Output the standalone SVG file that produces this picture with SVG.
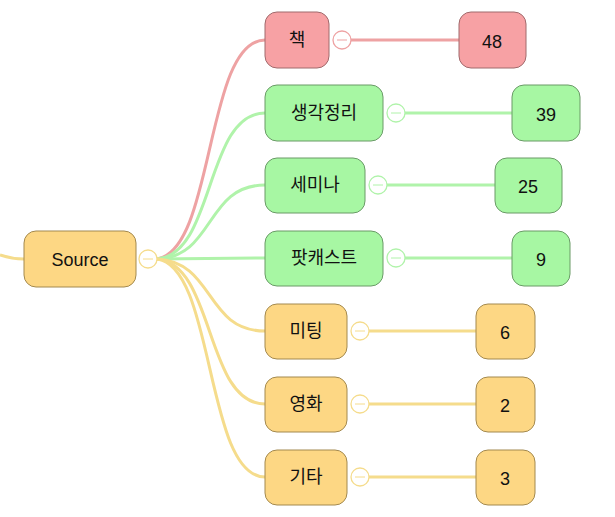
<svg xmlns="http://www.w3.org/2000/svg" width="615" height="517" viewBox="0 0 615 517">
<style>
text{font-family:"Liberation Sans","Noto Sans CJK KR",sans-serif;font-size:18px;text-anchor:middle;dominant-baseline:central;fill:#111}
.n rect{stroke-width:1}
.r rect{fill:#f7a1a4;stroke:#a06a6c}
.g rect{fill:#a7f7a3;stroke:#6a9a67}
.y rect{fill:#fdd784;stroke:#a3894f}
.c{fill:#fff;stroke-width:1.3}
.l{fill:none;stroke-width:3}
</style>
<g id="connectors">
<path class="l" d="M0 255 Q12 259 24 259" stroke="#f5dc8c"/>
<path class="l" d="M157 259 C215 250 205 40 265 40" stroke="#eea2a3"/>
<path class="l" d="M157 259 C215 255 205 113 265 113" stroke="#b0f3aa"/>
<path class="l" d="M157 259 C215 257 205 185 265 185" stroke="#b0f3aa"/>
<path class="l" d="M157 259 L265 258" stroke="#b0f3aa"/>
<path class="l" d="M157 259 C215 262 205 331 265 331" stroke="#f5dc8c"/>
<path class="l" d="M157 259 C215 264 205 404 265 404" stroke="#f5dc8c"/>
<path class="l" d="M157 259 C215 266 205 477 265 477" stroke="#f5dc8c"/>
<path class="l" d="M351 40 H459" stroke="#eea2a3"/>
<path class="l" d="M405 113 H512" stroke="#b0f3aa"/>
<path class="l" d="M387 185 H495" stroke="#b0f3aa"/>
<path class="l" d="M405 258 H512" stroke="#b0f3aa"/>
<path class="l" d="M369 331 H476" stroke="#f5dc8c"/>
<path class="l" d="M369 404 H476" stroke="#f5dc8c"/>
<path class="l" d="M369 477 H476" stroke="#f5dc8c"/>
</g>
<g id="source" class="n y"><rect x="24" y="231" width="112" height="56" rx="12"/><text x="80" y="260">Source</text><circle class="c" cx="148" cy="259" r="9" stroke="#f5dc8c"/><path d="M143 259h10" stroke="#f5dc8c"/></g>
<g id="n1" class="n r"><rect x="265" y="12" width="64" height="56" rx="12"/><text x="297" y="40">책</text><circle class="c" cx="342" cy="40" r="9" stroke="#eea2a3"/><path d="M337 40h10" stroke="#eea2a3"/></g>
<g id="v1" class="n r"><rect x="459" y="12" width="67" height="56" rx="12"/><text x="492" y="42">48</text></g>
<g id="n2" class="n g"><rect x="265" y="85" width="118" height="56" rx="12"/><text x="324" y="113">생각정리</text><circle class="c" cx="396" cy="113" r="9" stroke="#b0f3aa"/><path d="M391 113h10" stroke="#b0f3aa"/></g>
<g id="v2" class="n g"><rect x="512" y="85" width="68" height="56" rx="12"/><text x="546" y="115">39</text></g>
<g id="n3" class="n g"><rect x="265" y="158" width="100" height="55" rx="12"/><text x="315" y="185">세미나</text><circle class="c" cx="378" cy="185" r="9" stroke="#b0f3aa"/><path d="M373 185h10" stroke="#b0f3aa"/></g>
<g id="v3" class="n g"><rect x="495" y="158" width="67" height="55" rx="12"/><text x="528" y="187">25</text></g>
<g id="n4" class="n g"><rect x="265" y="231" width="118" height="55" rx="12"/><text x="324" y="258">팟캐스트</text><circle class="c" cx="396" cy="258" r="9" stroke="#b0f3aa"/><path d="M391 258h10" stroke="#b0f3aa"/></g>
<g id="v4" class="n g"><rect x="512" y="231" width="58" height="55" rx="12"/><text x="541" y="260">9</text></g>
<g id="n5" class="n y"><rect x="265" y="304" width="82" height="55" rx="12"/><text x="306" y="331">미팅</text><circle class="c" cx="360" cy="331" r="9" stroke="#f5dc8c"/><path d="M355 331h10" stroke="#f5dc8c"/></g>
<g id="v5" class="n y"><rect x="476" y="304" width="59" height="55" rx="12"/><text x="505" y="333">6</text></g>
<g id="n6" class="n y"><rect x="265" y="377" width="82" height="55" rx="12"/><text x="306" y="404">영화</text><circle class="c" cx="360" cy="404" r="9" stroke="#f5dc8c"/><path d="M355 404h10" stroke="#f5dc8c"/></g>
<g id="v6" class="n y"><rect x="476" y="377" width="59" height="55" rx="12"/><text x="505" y="406">2</text></g>
<g id="n7" class="n y"><rect x="265" y="450" width="82" height="55" rx="12"/><text x="306" y="477">기타</text><circle class="c" cx="360" cy="477" r="9" stroke="#f5dc8c"/><path d="M355 477h10" stroke="#f5dc8c"/></g>
<g id="v7" class="n y"><rect x="476" y="450" width="59" height="55" rx="12"/><text x="505" y="479">3</text></g>
</svg>
